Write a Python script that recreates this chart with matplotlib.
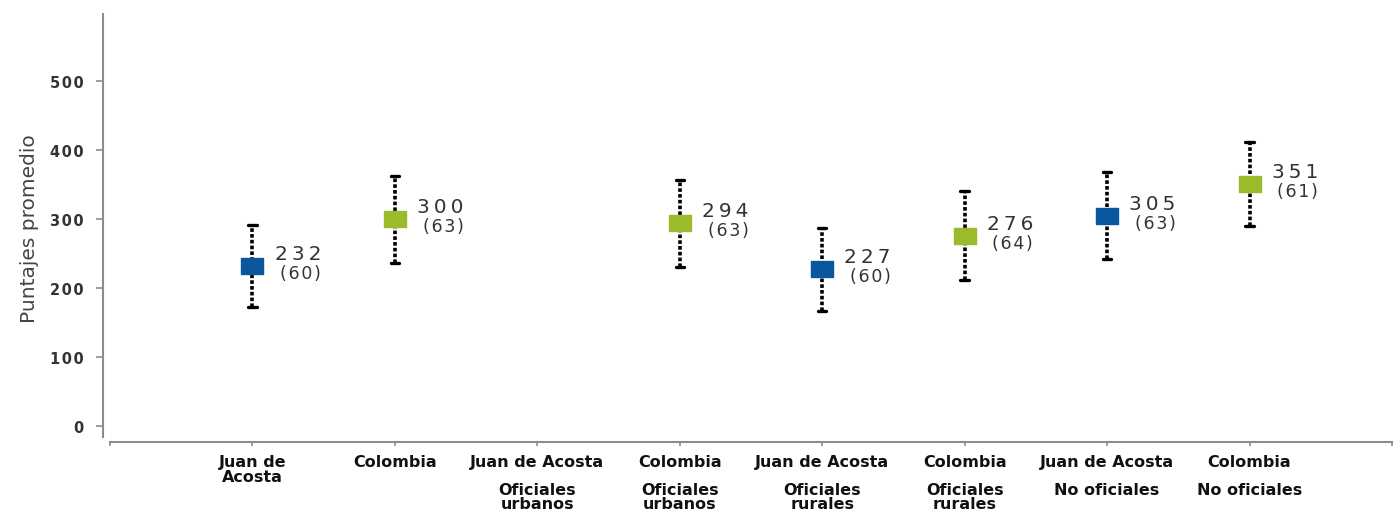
import numpy as np
import matplotlib
matplotlib.use("Agg")
import matplotlib.pyplot as plt
from matplotlib.transforms import blended_transform_factory

categories = ["Juan de\nAcosta", "Colombia", "Juan de Acosta", "Colombia",
              "Juan de Acosta", "Colombia", "Juan de Acosta", "Colombia"]
groups = ["", "", "Oficiales\nurbanos", "Oficiales\nurbanos",
          "Oficiales\nrurales", "Oficiales\nrurales", "No oficiales", "No oficiales"]
means = [232, 300, np.nan, 294, 227, 276, 305, 351]
sds = [60, 63, np.nan, 63, 60, 64, 63, 61]
is_colombia = [False, True, False, True, False, True, False, True]
yticks = [0, 100, 200, 300, 400, 500]

BLUE = "#0a57a0"
GREEN = "#9bbb2c"
AXC = "#8c8c8c"

def spaced(s, sp="\u2009"):
    return sp.join(s)

plt.rcParams['font.family'] = ['DejaVu Sans']
fig = plt.figure(figsize=(13.95, 5.10), dpi=100)
ax = fig.add_axes([110/1395, 1-443/510, (1392-110)/1395, (443-15)/510])

rect = [(-1, -0.68), (1, -0.68), (1, 0.68), (-1, 0.68), (-1, -0.68)]

x = np.arange(len(categories))
for i in x:
    m, s = means[i], sds[i]
    if np.isnan(m):
        continue
    col = GREEN if is_colombia[i] else BLUE
    ax.plot([i, i], [m - s, m + s], color="black", lw=2.6,
            linestyle=(0, (1.0, 0.6)), zorder=2, solid_capstyle='butt')
    for y in (m - s, m + s):
        ax.plot([i - 0.03, i + 0.03], [y, y], color="black", lw=2.4, zorder=2,
                solid_capstyle='round')
    ax.plot(i, m, marker=rect, markersize=16, color=col, zorder=3, linestyle="none")
    ax.annotate(spaced(f"{int(m)}"), (i, m), xytext=(16, 9), textcoords="offset points",
                ha="left", va="center", fontsize=14.5, color="#333333")
    ax.annotate(spaced(f"({int(s)})", "\u200a"), (i, m), xytext=(20, -5), textcoords="offset points",
                ha="left", va="center", fontsize=12.5, color="#333333")

ax.set_xlim(-1, 8)
ax.set_ylim(-23, 597)

for sp in ("top", "right"):
    ax.spines[sp].set_visible(False)
ax.spines["left"].set_position(("outward", 5))
ax.spines["left"].set_bounds(-16, 597)
for sp in ("left", "bottom"):
    ax.spines[sp].set_color(AXC)
    ax.spines[sp].set_linewidth(1.5)
ax.tick_params(axis="x", direction="out", length=3, width=1.2, color=AXC, pad=6)
ax.tick_params(axis="y", direction="out", length=5, width=1.2, color=AXC, pad=9)

ax.set_xticks(np.arange(-1, 9))
ax.set_xticklabels([""] + categories + [""], fontsize=11.5, fontweight="bold",
                   color="#111111", linespacing=0.92)
ax.set_yticks(yticks)
ax.set_yticklabels([spaced(str(v), "\u200a") for v in yticks],
                   fontsize=10.5, fontweight="bold", color="#333333")

ax.set_ylabel("Puntajes promedio", fontsize=14.5, color="#444444", labelpad=8)

trans = blended_transform_factory(ax.transData, fig.transFigure)
for i, g in enumerate(groups):
    if g:
        ax.text(i, 1 - 483/510, g, transform=trans, ha="center", va="top",
                fontsize=11.5, fontweight="bold", color="#111111", linespacing=0.92)

fig.savefig("out.png", dpi=100, facecolor="white")
